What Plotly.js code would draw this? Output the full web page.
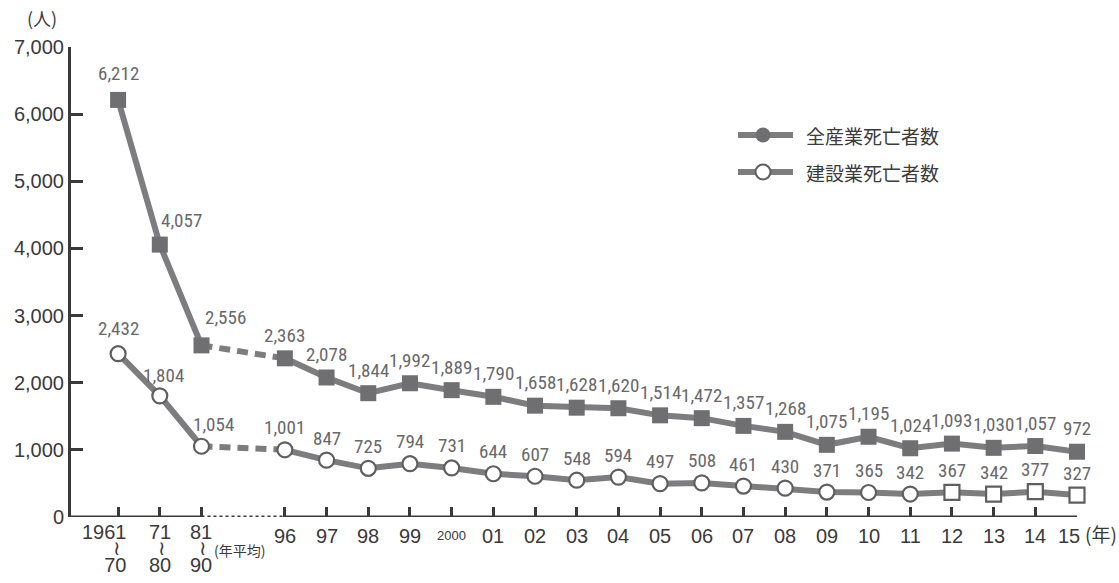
<!DOCTYPE html>
<html>
<head>
<meta charset="utf-8">
<script src="https://cdn.plot.ly/plotly-3.0.1.min.js"></script>
<style>
  html, body { margin: 0; padding: 0; background: #fff; }
  #chart { width: 1119px; height: 583px; }
</style>
</head>
<body>
<div id="chart"></div>
<script>
// 年代平均（1961～70, 71～80, 81～90）
const periodTop = ['1961', '71', '81'];
const periodBottom = ['70', '80', '90'];
const periodAll = [6212, 4057, 2556];
const periodConst = [2432, 1804, 1054];

// 各年（1996～2015）
const yearLabels = ['96', '97', '98', '99', '2000', '01', '02', '03', '04', '05',
                    '06', '07', '08', '09', '10', '11', '12', '13', '14', '15'];
const yearAll = [2363, 2078, 1844, 1992, 1889, 1790, 1658, 1628, 1620, 1514,
                 1472, 1357, 1268, 1075, 1195, 1024, 1093, 1030, 1057, 972];
const yearConst = [1001, 847, 725, 794, 731, 644, 607, 548, 594, 497,
                   508, 461, 430, 371, 365, 342, 367, 342, 377, 327];

const seriesNames = ['全産業死亡者数', '建設業死亡者数'];

// x positions: periods at 0..2, one empty slot, then years from 4
const xPeriod = periodTop.map((_, i) => i);
const xYear = yearLabels.map((_, i) => i + 4);

const LINE = '#7d7d7f';
const MARK = '#6f6f72';
const RING = '#5f5f62';
const LABEL = '#69696b';
const DARK = '#3a3a3a';
const NUM_FONT = '"Liberation Sans Narrow", "Roboto Condensed", Roboto, sans-serif';
const TXT_FONT = '"Liberation Sans", Arial, sans-serif';
const CJK_FONT = '"Noto Sans CJK JP", "Noto Sans", sans-serif';

// plot box in pixels
const L = 71, R = 1077, T = 47, B = 517;
const px = v => (v - L) / (R - L);
const py = v => (B - v) / (B - T);

// construction: open circles, last four years open squares
const constSymbols = yearLabels.map((_, i) => i >= 16 ? 'square' : 'circle');

const traces = [
  // dashed links across the gap
  { x: [xPeriod[2], xYear[0]], y: [periodAll[2], yearAll[0]], mode: 'lines',
    line: { color: LINE, width: 6, dash: '11px,7px' }, hoverinfo: 'skip', showlegend: false },
  { x: [xPeriod[2], xYear[0]], y: [periodConst[2], yearConst[0]], mode: 'lines',
    line: { color: LINE, width: 6, dash: '11px,7px' }, hoverinfo: 'skip', showlegend: false },
  // all industries
  { x: xPeriod, y: periodAll, mode: 'lines+markers', name: seriesNames[0],
    line: { color: LINE, width: 6 },
    marker: { symbol: 'square', size: 16, color: MARK }, showlegend: false, cliponaxis: false },
  { x: xYear, y: yearAll, mode: 'lines+markers', name: seriesNames[0],
    line: { color: LINE, width: 6 },
    marker: { symbol: 'square', size: 16, color: MARK }, showlegend: false, cliponaxis: false },
  // construction
  { x: xPeriod, y: periodConst, mode: 'lines+markers', name: seriesNames[1],
    line: { color: LINE, width: 6 },
    marker: { symbol: 'circle', size: 15, color: '#fff', line: { color: RING, width: 2.2 } },
    showlegend: false, cliponaxis: false },
  { x: xYear, y: yearConst, mode: 'lines+markers', name: seriesNames[1],
    line: { color: LINE, width: 6 },
    marker: { symbol: constSymbols, size: 15, color: '#fff', line: { color: RING, width: 2.2 } },
    showlegend: false, cliponaxis: false }
];

const fmt = v => v.toLocaleString('en-US');
const annotations = [];
const numFont = { family: NUM_FONT, size: 19, color: LABEL };

// value labels; the steep early points carry their label to the right
const periodShiftAll = [[0, 26], [22, 24], [24, 28]];
const periodShiftConst = [[0, 25], [4, 20], [12, 22]];
xPeriod.forEach((x, i) => {
  annotations.push({ x, y: periodAll[i], text: fmt(periodAll[i]), showarrow: false,
    xshift: periodShiftAll[i][0], yshift: periodShiftAll[i][1], yanchor: 'middle', font: numFont });
  annotations.push({ x, y: periodConst[i], text: fmt(periodConst[i]), showarrow: false,
    xshift: periodShiftConst[i][0], yshift: periodShiftConst[i][1], yanchor: 'middle', font: numFont });
});
xYear.forEach((x, i) => {
  annotations.push({ x, y: yearAll[i], text: fmt(yearAll[i]), showarrow: false,
    yshift: 23, yanchor: 'middle', font: numFont });
  annotations.push({ x, y: yearConst[i], text: fmt(yearConst[i]), showarrow: false,
    yshift: 22, yanchor: 'middle', font: numFont });
});

// x category labels; decade averages stack "start ≀ end" in one tight block
const tickFont = { family: TXT_FONT, size: 20, color: DARK };
const big = s => '<span style="font-size:20px">' + s + '</span>';
xPeriod.forEach((x, i) => {
  annotations.push({ x, y: 0, yref: 'paper', showarrow: false, borderpad: 0,
    text: big(periodTop[i]) + '<br>' + big('≀&nbsp;') + '<br>' + big(periodBottom[i]),
    xanchor: 'right', align: 'right', xshift: i === 0 ? 10 : 12,
    yanchor: 'top', yshift: -3,
    font: { family: TXT_FONT, size: 12.5, color: DARK } });
});
xYear.forEach((x, i) => {
  const small = yearLabels[i].length === 4;
  const last = i === yearLabels.length - 1;
  annotations.push({ x, y: 0, yref: 'paper', text: yearLabels[i], showarrow: false,
    xshift: last ? -8 : 0, yanchor: 'middle', yshift: small ? -18 : -19,
    font: small ? { family: TXT_FONT, size: 13, color: DARK } : tickFont });
});
annotations.push({ x: px(1083), y: 0, xref: 'paper', yref: 'paper', text: '(年)',
  showarrow: false, xanchor: 'left', yanchor: 'middle', yshift: -16,
  font: { family: CJK_FONT, size: 19, color: DARK } });
annotations.push({ x: px(212), y: 0, xref: 'paper', yref: 'paper', text: '(年平均)',
  showarrow: false, xanchor: 'left', yanchor: 'middle', yshift: -33,
  font: { family: CJK_FONT, size: 14, color: DARK } });
annotations.push({ x: px(25), y: py(18), xref: 'paper', yref: 'paper', text: '(人)',
  showarrow: false, xanchor: 'left', yanchor: 'middle',
  font: { family: CJK_FONT, size: 18, color: DARK } });

// legend
const legendRows = [135, 172];
const shapes = [];
seriesNames.forEach((name, i) => {
  const y = py(legendRows[i]);
  shapes.push({ type: 'line', xref: 'paper', yref: 'paper', x0: px(738), x1: px(793), y0: y, y1: y,
    line: { color: LINE, width: 6 } });
  shapes.push({ type: 'circle', xref: 'paper', yref: 'paper', xsizemode: 'pixel', ysizemode: 'pixel',
    xanchor: px(763), yanchor: y, x0: -7.5, x1: 7.5, y0: -7.5, y1: 7.5,
    fillcolor: i === 0 ? MARK : '#fff', line: { color: i === 0 ? MARK : RING, width: i === 0 ? 0 : 2 } });
  annotations.push({ x: px(804), y, xref: 'paper', yref: 'paper', text: name, showarrow: false,
    xanchor: 'left', yanchor: 'middle', font: { family: CJK_FONT, size: 19, color: '#3c3c3c' } });
});

// x axis baseline: solid, dotted across the gap, solid again
shapes.push({ type: 'line', xref: 'paper', yref: 'y', x0: 0, x1: (xPeriod[2] + 1.13) / 24.13, y0: 0, y1: 0,
  line: { color: DARK, width: 3 } });
shapes.push({ type: 'line', xref: 'x', yref: 'y', x0: xPeriod[2], x1: xYear[0], y0: 0, y1: 0,
  line: { color: DARK, width: 3, dash: 'dot' } });
shapes.push({ type: 'line', xref: 'x', yref: 'y', x0: xYear[0], x1: xYear[xYear.length - 1], y0: 0, y1: 0,
  line: { color: DARK, width: 3 } });

const layout = {
  width: 1119, height: 583,
  margin: { l: L, r: 1119 - R, t: T, b: 583 - B, pad: 0 },
  paper_bgcolor: '#fff', plot_bgcolor: '#fff',
  showlegend: false,
  xaxis: {
    range: [-1.13, 23], showgrid: false, zeroline: false, showline: false,
    tickmode: 'array', tickvals: xPeriod.concat(xYear), showticklabels: false,
    ticks: 'inside', ticklen: 10, tickwidth: 3, tickcolor: DARK, fixedrange: true
  },
  yaxis: {
    range: [0, 7000], showgrid: false, zeroline: false,
    showline: true, linecolor: DARK, linewidth: 3,
    tickmode: 'array', tickvals: [0, 1000, 2000, 3000, 4000, 5000, 6000, 7000],
    ticktext: ['0', '1,000', '2,000', '3,000', '4,000', '5,000', '6,000', '7,000'],
    ticks: 'inside', ticklen: 12, tickwidth: 3, tickcolor: DARK,
    tickfont: { family: TXT_FONT, size: 20, color: DARK }, fixedrange: true
  },
  shapes, annotations
};

Plotly.newPlot('chart', traces, layout, { displayModeBar: false, staticPlot: true });
</script>
</body>
</html>
